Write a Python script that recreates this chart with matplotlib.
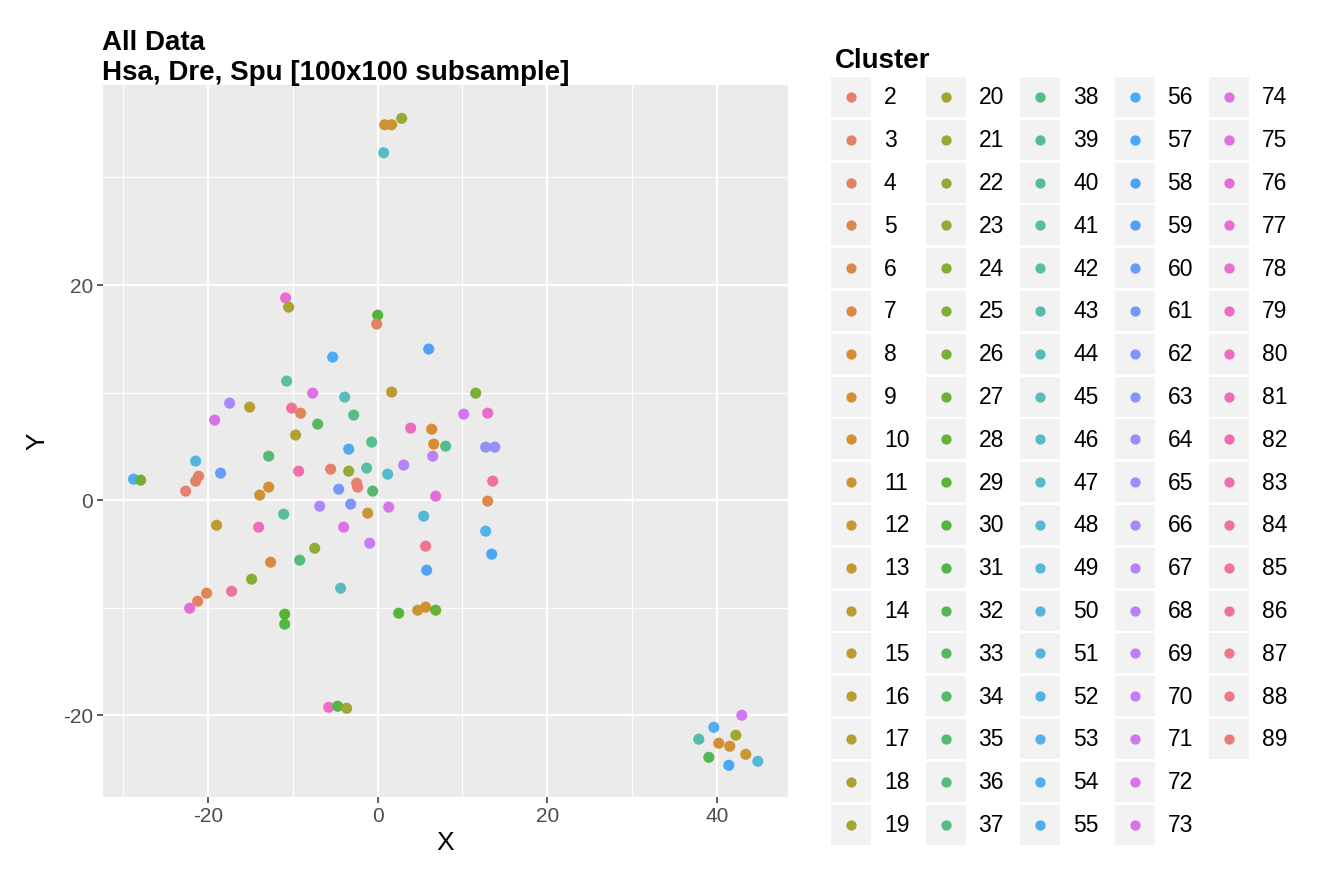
import matplotlib
matplotlib.use("Agg")
import matplotlib.pyplot as plt
from matplotlib.patches import Rectangle
import numpy as np

plt.rcParams['font.family'] = ['Liberation Sans', 'DejaVu Sans']
plt.rcParams['axes.unicode_minus'] = False

# cluster labels shown in the legend
clusters = list(range(2, 90))

# points: (x, y, cluster)
x_vals = [0.83, 1.65, 2.83, 0.71, -10.86, -10.50, -10.74, -17.46, -15.10, -10.15,
          -9.09, -19.23, -9.68, -12.86, -21.47, -18.53, -21.12, -21.47, -22.65, -28.79,
          -27.96, -12.86, -13.92, -11.09, -19.00, -14.04, -9.32, 0.00, -0.12, -5.31,
          6.02, -7.67, -3.89, 1.65, 11.56, -2.83, -7.08, 10.15, 12.98, 3.89,
          6.37, 6.61, 8.02, 12.74, 13.81, -3.42, -0.71, 6.49, 3.07, -5.55,
          -3.42, -1.30, 1.18, 13.57, -4.60, -2.48, -2.36, -0.59, 6.84, 12.98,
          -6.84, -3.19, 1.30, -1.18, 5.43, 12.74, -4.01, -0.94, 5.66, 13.45,
          5.78, -7.43, -9.20, -12.63, -14.87, -4.37, -17.23, -20.18, -21.24, -22.18,
          -10.97, -10.97, -5.78, -4.72, -3.66, 2.48, 4.72, 5.66, 6.84, 42.95,
          39.65, 37.88, 42.24, 40.24, 41.53, 39.06, 41.42, 43.42, 44.84]
y_vals = [34.9, 34.9, 35.5, 32.3, 18.8, 17.95, 11.07, 9.02, 8.65, 8.56,
          8.09, 7.44, 6.05, 4.09, 3.63, 2.51, 2.23, 1.77, 0.84, 1.95,
          1.86, 1.21, 0.47, -1.30, -2.33, -2.51, 2.70, 17.2, 16.37, 13.3,
          14.05, 9.95, 9.58, 10.05, 9.95, 7.91, 7.07, 8.0, 8.09, 6.70,
          6.60, 5.21, 5.02, 4.93, 4.93, 4.74, 5.40, 4.09, 3.26, 2.88,
          2.70, 2.98, 2.42, 1.77, 1.02, 1.58, 1.21, 0.84, 0.37, -0.09,
          -0.56, -0.37, -0.65, -1.21, -1.49, -2.88, -2.51, -4.0, -4.28, -5.02,
          -6.51, -4.47, -5.58, -5.77, -7.35, -8.19, -8.47, -8.65, -9.40, -10.05,
          -10.60, -11.53, -19.26, -19.16, -19.35, -10.51, -10.23, -9.95, -10.23, -20.0,
          -21.12, -22.23, -21.86, -22.6, -22.88, -23.91, -24.65, -23.63, -24.28]
cluster_vals = [10, 11, 21, 46, 77, 19, 42, 66, 16, 85,
                5, 73, 17, 35, 51, 60, 3, 4, 2, 55,
                27, 9, 10, 40, 14, 80, 83, 30, 4, 56,
                58, 74, 45, 15, 25, 38, 33, 71, 78, 80,
                8, 8, 37, 63, 64, 56, 39, 68, 67, 3,
                22, 41, 48, 86, 61, 3, 2, 34, 76, 6,
                66, 62, 72, 13, 50, 52, 74, 69, 87, 57,
                59, 23, 36, 7, 24, 46, 84, 5, 4, 76,
                29, 31, 79, 30, 19, 29, 12, 11, 28, 71,
                55, 43, 20, 9, 10, 32, 57, 13, 49]


def to_lin(c):
    return np.where(c <= 0.04045, c / 12.92, ((c + 0.055) / 1.055) ** 2.4)


def from_lin(c):
    c = np.clip(c, 0, 1)
    return np.where(c <= 0.0031308, 12.92 * c, 1.055 * c ** (1 / 2.4) - 0.055)


def hue_colour(h, c=100.0, l=65.0):
    # ggplot hue palette: hcl() -> sRGB, clipped
    xn, yn, zn = 95.047, 100.0, 108.883
    un = 4 * xn / (xn + 15 * yn + 3 * zn)
    vn = 9 * yn / (xn + 15 * yn + 3 * zn)
    u = c * np.cos(np.radians(h))
    v = c * np.sin(np.radians(h))
    Y = yn * ((l + 16) / 116) ** 3
    up = u / (13 * l) + un
    vp = v / (13 * l) + vn
    X = 9 * Y * up / (4 * vp)
    Z = (12 - 3 * up - 20 * vp) * Y / (4 * vp)
    xyz = np.array([X, Y, Z]) / 100
    m = np.array([[3.2404542, -1.5371385, -0.4985314],
                  [-0.9692660, 1.8760108, 0.0415560],
                  [0.0556434, -0.2040259, 1.0572252]])
    srgb = from_lin(m @ xyz)
    srgb = np.round(srgb * 255) / 255
    # the screenshot was taken on a P3 display, so colours look a bit muted
    p3 = np.array([[0.8225, 0.1774, 0.0000],
                   [0.0332, 0.9669, 0.0000],
                   [0.0171, 0.0724, 0.9108]])
    out = from_lin(p3 @ to_lin(srgb))
    return '#%02x%02x%02x' % tuple(int(round(v * 255)) for v in out)


n = len(clusters)
palette = {k: hue_colour(15 + 360 * i / n) for i, k in enumerate(clusters)}

W, H = 1332, 882
fig = plt.figure(figsize=(W / 100, H / 100), dpi=100)

ax = fig.add_axes([103 / W, 1 - 797 / H, 685 / W, 712 / H])
ax.set_facecolor('#EBEBEB')
ax.scatter(x_vals, y_vals, c=[palette[k] for k in cluster_vals], s=64, linewidths=0, zorder=3)
ax.set_xlim(-32.4, 48.4)
ax.set_ylim(-27.6, 38.6)
ax.set_xticks([-20, 0, 20, 40])
ax.set_yticks([-20, 0, 20])
ax.set_xticks([-30, -10, 10, 30], minor=True)
ax.set_yticks([-10, 10, 30], minor=True)
ax.grid(which='major', color='white', linewidth=1.6)
ax.grid(which='minor', color='white', linewidth=0.8)
ax.set_axisbelow(True)
for s in ax.spines.values():
    s.set_visible(False)
ax.tick_params(which='major', length=4, width=1.1, color='#333333',
               labelsize=15, labelcolor='#4D4D4D', pad=3)
ax.tick_params(which='minor', length=0)
ax.set_xlabel('X', fontsize=19, labelpad=4)
ax.set_ylabel('Y', fontsize=19, labelpad=10)

fig.text(102 / W, 1 - 50 / H, 'All Data', fontsize=20, fontweight='bold', va='baseline')
fig.text(102 / W, 1 - 80 / H, 'Hsa, Dre, Spu [100x100 subsample]', fontsize=20,
         fontweight='bold', va='baseline')

# legend drawn in pixel coordinates on an overlay axes
lg = fig.add_axes([0, 0, 1, 1], zorder=5)
lg.set_xlim(0, W)
lg.set_ylim(H, 0)
lg.axis('off')
lg.text(835, 68, 'Cluster', fontsize=20, fontweight='bold', va='baseline')
rows = 18
for i, k in enumerate(clusters):
    col, row = divmod(i, rows)
    bx = 831 + col * 94.5
    by = 77 + row * 42.8
    lg.add_patch(Rectangle((bx, by), 40, 40, facecolor='#F2F2F2', edgecolor='none'))
    lg.scatter([bx + 20], [by + 20], s=55, color=palette[k], linewidths=0)
    lg.text(bx + 53, by + 21, str(k), fontsize=16.5, va='center', ha='left')

fig.savefig('out.png', dpi=100)
